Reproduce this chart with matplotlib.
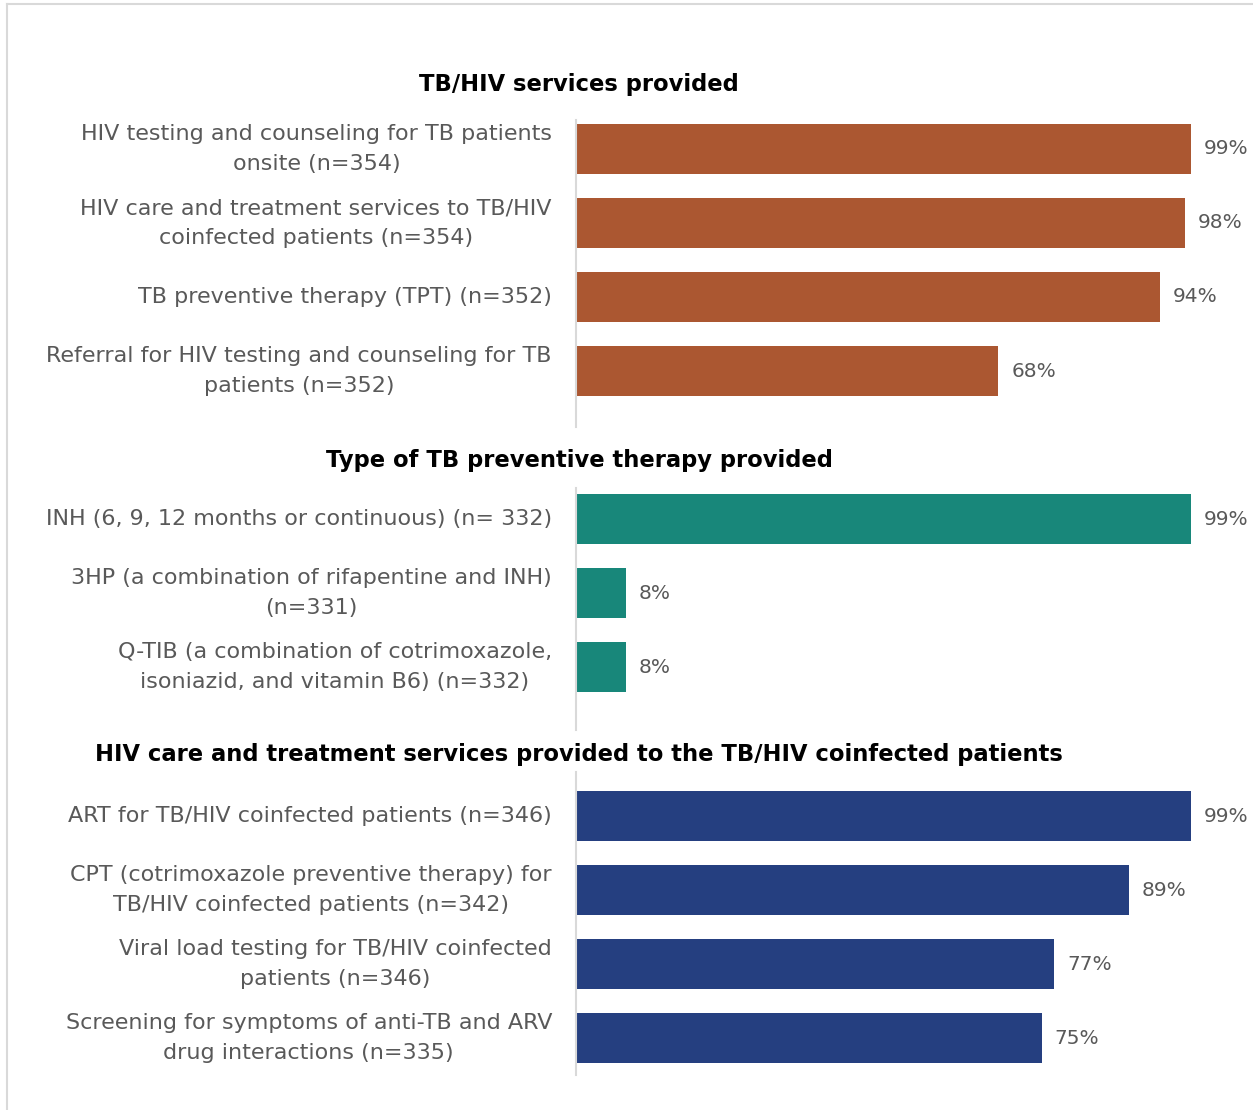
import matplotlib
matplotlib.use("Agg")
import matplotlib.pyplot as plt
from matplotlib.lines import Line2D
from matplotlib.transforms import blended_transform_factory, offset_copy

plt.rcParams["font.family"] = ["DejaVu Sans"]

W, H = 1253, 1110
TXT = "#595959"

# --- data ---
svc_labels = [
    "HIV testing and counseling for TB patients\nonsite (n=354)",
    "HIV care and treatment services to TB/HIV\ncoinfected patients (n=354)",
    "TB preventive therapy (TPT) (n=352)",
    "Referral for HIV testing and counseling for TB\npatients (n=352)",
]
svc_values = [99, 98, 94, 68]

tpt_labels = [
    "INH (6, 9, 12 months or continuous) (n= 332)",
    "3HP (a combination of rifapentine and INH)\n(n=331)",
    "Q-TIB (a combination of cotrimoxazole,\nisoniazid, and vitamin B6) (n=332)",
]
tpt_values = [99, 8, 8]

hiv_labels = [
    "ART for TB/HIV coinfected patients (n=346)",
    "CPT (cotrimoxazole preventive therapy) for\nTB/HIV coinfected patients (n=342)",
    "Viral load testing for TB/HIV coinfected\npatients (n=346)",
    "Screening for symptoms of anti-TB and ARV\ndrug interactions (n=335)",
]
hiv_values = [99, 89, 77, 75]

panels = [
    # title, title y, labels, values, colour, axis top/bottom, first bar centre (px)
    ("TB/HIV services provided", 85, svc_labels, svc_values, "#AB5731", 120, 427, 149),
    ("Type of TB preventive therapy provided", 460, tpt_labels, tpt_values, "#18877A", 488, 730, 519),
    ("HIV care and treatment services provided to the TB/HIV coinfected patients", 754,
     hiv_labels, hiv_values, "#253F80", 772, 1075, 816),
]

PITCH = 74.0      # px between bar centres
BAR_H = 50.0      # px bar thickness
X0, PX_PER_PCT = 576, 6.21

fig = plt.figure(figsize=(W / 100, H / 100), dpi=100)

# frame lines along the top and left edge
fig.add_artist(Line2D([7 / W, 1], [1 - 4 / H, 1 - 4 / H], color="#d9d9d9", lw=1.5))
fig.add_artist(Line2D([7 / W, 7 / W], [0, 1 - 4 / H], color="#d9d9d9", lw=1.5))

for title, ty, labels, values, colour, top, bot, c0 in panels:
    ax = fig.add_axes([X0 / W, 1 - bot / H, 100 * PX_PER_PCT / W, (bot - top) / H])
    n = len(values)
    ax.barh(range(n), values, height=BAR_H / PITCH, color=colour)
    ax.set_xlim(0, 100)
    ax.set_ylim((bot - c0) / PITCH, (top - c0) / PITCH)
    for s in ["top", "right", "bottom"]:
        ax.spines[s].set_visible(False)
    ax.spines["left"].set_color("#d9d9d9")
    ax.spines["left"].set_linewidth(1.5)
    ax.set_xticks([])
    ax.set_yticks([])

    tr = blended_transform_factory(ax.transAxes, ax.transData)
    tr_lab = offset_copy(tr, fig=fig, x=-24, y=0, units="dots")
    for i, (lab, v) in enumerate(zip(labels, values)):
        ax.text(0, i, lab, transform=tr_lab, ha="right", va="center",
                multialignment="center", fontsize=16, color=TXT, linespacing=1.62)
        ax.annotate(f"{v}%", (v, i), xytext=(13, 0), textcoords="offset pixels",
                    ha="left", va="center", fontsize=14.5, color=TXT,
                    annotation_clip=False)

    fig.text(579 / W, 1 - ty / H, title, ha="center", va="center",
             fontsize=16.3, fontweight="bold", color="black")

fig.savefig("out.png", dpi=100, facecolor="white")
